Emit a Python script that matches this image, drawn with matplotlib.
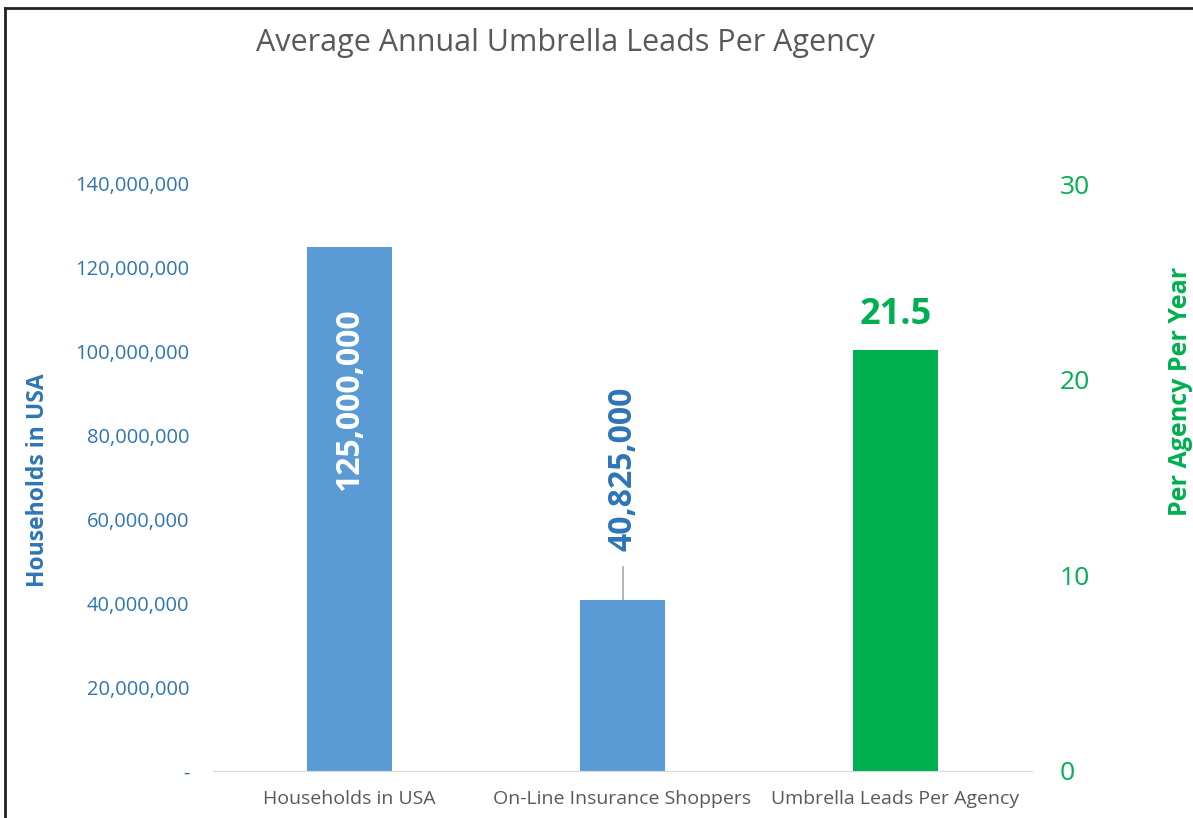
import matplotlib
matplotlib.use('Agg')
import matplotlib.pyplot as plt
from matplotlib.ticker import FuncFormatter

categories = ['Households in USA', 'On-Line Insurance Shoppers', 'Umbrella Leads Per Agency']
households = [125000000, 40825000]
leads = [21.5]
left_ticks = [0, 20000000, 40000000, 60000000, 80000000, 100000000, 120000000, 140000000]
right_ticks = [0, 10, 20, 30]

blue = '#5B9BD5'
green = '#00B050'
tick_blue = '#2E75B6'
plt.rcParams['font.family'] = ['Open Sans', 'DejaVu Sans']

fig = plt.figure(figsize=(11.93, 8.18), dpi=100)
ax = fig.add_axes([213/1193, 1-771/818, (1032-213)/1193, (771-184)/818])
ax2 = ax.twinx()

w = 0.31
ax.bar([0, 1], households, width=w, color=blue, zorder=2)
ax2.bar([2], leads, width=w, color=green, zorder=2)

ax.set_xlim(-0.5, 2.5)
ax.set_ylim(0, 140000000)
ax2.set_ylim(0, 30)
ax.set_yticks(left_ticks)
ax2.set_yticks(right_ticks)
ax.yaxis.set_major_formatter(FuncFormatter(lambda v, p: '-' if v == 0 else '{:,.0f}'.format(v)))
ax.set_xticks(range(3))
ax.set_xticklabels(categories, fontsize=14, color='#595959')

for a in (ax, ax2):
    for s in a.spines.values():
        s.set_visible(False)
    a.tick_params(length=0)
ax.spines['bottom'].set_visible(True)
ax.spines['bottom'].set_color('#D9D9D9')
ax.tick_params(axis='y', labelsize=14.5, labelcolor=tick_blue, pad=17)
ax.tick_params(axis='x', pad=14)
ax2.tick_params(axis='y', labelsize=19, labelcolor=green, pad=20)

ax.set_ylabel('Households in USA', color=tick_blue, fontsize=16.5, fontweight='bold')
ax.yaxis.set_label_coords(-0.199, 0.496)
ax2.set_ylabel('Per Agency Per Year', color=green, fontsize=18, fontweight='bold')
ax2.yaxis.set_label_coords(1.166, 0.646)

# data labels
ax.text(0, 88500000, '{:,}'.format(households[0]), rotation=90, ha='center', va='center',
        color='white', fontsize=23, fontweight='bold', zorder=3)
ax.text(1, 72000000, '{:,}'.format(households[1]), rotation=90, ha='center', va='center',
        color=tick_blue, fontsize=23, fontweight='bold', zorder=3)
ax.plot([1, 1], [households[1], 48700000], color='#A6A6A6', lw=1.2, zorder=1)
ax2.text(2, 23.3, '{}'.format(leads[0]), ha='center', va='center',
         color=green, fontsize=26, fontweight='bold')

fig.text(565/1193, 1-43/818, 'Average Annual Umbrella Leads Per Agency', ha='center', va='center',
         fontsize=22, color='#595959')

# image border (left and top)
fig.add_artist(plt.Line2D([5/1193, 5/1193], [0, 1-8/818], transform=fig.transFigure, color='#222222', lw=2))
fig.add_artist(plt.Line2D([5/1193, 1], [1-8/818, 1-8/818], transform=fig.transFigure, color='#222222', lw=2))

fig.savefig('out.png', dpi=100)
